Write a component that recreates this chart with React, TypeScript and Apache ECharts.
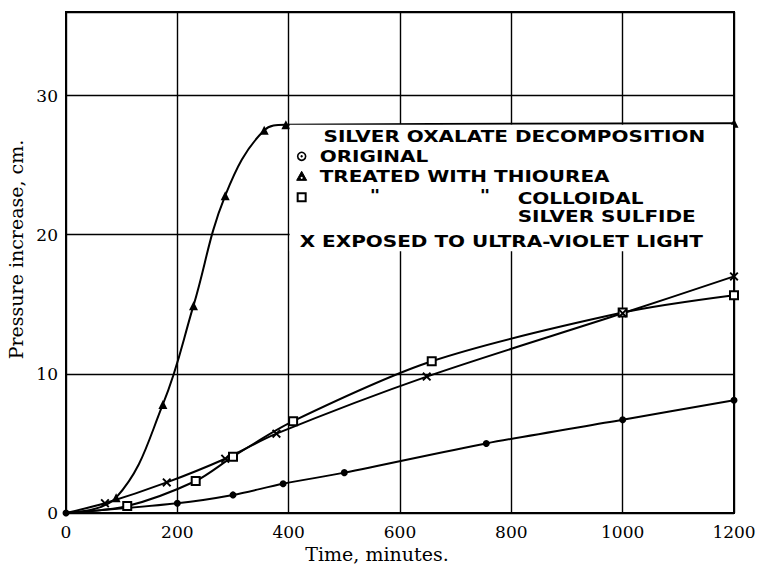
import React, { useEffect, useRef } from "react";
import * as echarts from "echarts";

// Time (minutes) and pressure increase (cm)
const originalTime = [0, 200, 300, 390, 500, 755, 1000, 1200];
const originalPressure = [0, 0.7, 1.3, 2.1, 2.9, 5.0, 6.7, 8.1];

const thioureaTime = [0, 90, 174, 229, 286, 356, 395, 1200];
const thioureaPressure = [0, 1.1, 7.8, 14.9, 22.8, 27.5, 27.9, 28.0];

const colloidalTime = [0, 110, 233, 300, 408, 657, 1000, 1200];
const colloidalPressure = [0, 0.5, 2.3, 4.05, 6.6, 10.9, 14.4, 15.65];

const uvTime = [0, 70, 181, 286, 378, 648, 1000, 1200];
const uvPressure = [0, 0.7, 2.2, 3.9, 5.7, 9.8, 14.35, 17.0];

const xTicks = [0, 200, 400, 600, 800, 1000, 1200];
const yTicks = [0, 10, 20, 30];

const legendTitle = "SILVER OXALATE DECOMPOSITION";
const legendOriginal = "ORIGINAL";
const legendThiourea = "TREATED WITH THIOUREA";
const legendColloidal1 = "COLLOIDAL";
const legendColloidal2 = "SILVER SULFIDE";
const legendUV = "X EXPOSED TO ULTRA-VIOLET LIGHT";

const X_SYMBOL =
  "path://M0,1.5L1.5,0L5,3.5L8.5,0L10,1.5L6.5,5L10,8.5L8.5,10L5,6.5L1.5,10L0,8.5L3.5,5Z";

function pairs(xs: number[], ys: number[]) {
  return xs.map((x, i) =>
    i === 0 ? { value: [x, ys[i]], symbol: "none" } : { value: [x, ys[i]] }
  );
}

export default function App() {
  const ref = useRef<HTMLDivElement>(null);
  useEffect(() => {
    if (!ref.current) return;
    const chart = echarts.init(ref.current, null, { renderer: "svg" });
    const serif = "DejaVu Serif";
    const lineStyle = { color: "#000", width: 2 };
    chart.setOption({
      animation: false,
      backgroundColor: "#fff",
      grid: {
        left: 66,
        right: 24,
        top: 12,
        bottom: 56,
        outerBoundsMode: "none",
        containLabel: false,
        show: true,
        borderColor: "#000",
        borderWidth: 2,
        backgroundColor: "transparent",
      },
      xAxis: {
        type: "value",
        min: 0,
        max: 1200,
        interval: 200,
        name: "Time, minutes.",
        nameLocation: "middle",
        nameGap: 31,
        nameTextStyle: {
          fontFamily: serif,
          fontSize: 19,
          color: "#000",
          padding: [0, 46, 0, 0],
        },
        axisLine: { show: true, lineStyle: { color: "#000", width: 2 } },
        axisTick: { show: false },
        axisLabel: {
          fontFamily: serif,
          fontSize: 17,
          color: "#000",
          margin: 10,
          formatter: (v: number) => (xTicks.includes(v) ? String(v) : ""),
        },
        splitLine: { show: true, lineStyle: { color: "#000", width: 1.4 } },
      },
      yAxis: {
        type: "value",
        min: 0,
        max: 36,
        interval: 10,
        name: "Pressure increase, cm.",
        nameLocation: "middle",
        nameGap: 33,
        nameTextStyle: {
          fontFamily: serif,
          fontSize: 19,
          color: "#000",
          padding: [0, 0, 0, 26],
        },
        axisLine: { show: true, lineStyle: { color: "#000", width: 2 } },
        axisTick: { show: false },
        axisLabel: {
          fontFamily: serif,
          fontSize: 17,
          color: "#000",
          margin: 8,
          showMaxLabel: false,
          formatter: (v: number) => (yTicks.includes(v) ? String(v) : ""),
        },
        splitLine: { show: true, lineStyle: { color: "#000", width: 1.4 } },
      },
      series: [
        {
          name: "Original",
          type: "line",
          smooth: 0.3,
          data: originalTime.map((x, i) => [x, originalPressure[i]]),
          symbol: "circle",
          symbolSize: 7,
          itemStyle: { color: "#000" },
          lineStyle,
          z: 3,
        },
        {
          name: "Treated with thiourea",
          type: "line",
          smooth: 0.4,
          data: pairs(thioureaTime, thioureaPressure),
          symbol: "triangle",
          symbolSize: 9,
          itemStyle: { color: "#000" },
          lineStyle,
          z: 3,
        },
        {
          name: "Treated with colloidal silver sulfide",
          type: "line",
          smooth: 0.3,
          data: pairs(colloidalTime, colloidalPressure),
          symbol: "rect",
          symbolSize: 8,
          itemStyle: { color: "#fff", borderColor: "#000", borderWidth: 2 },
          lineStyle,
          z: 3,
        },
        {
          name: "Exposed to ultra-violet light",
          type: "line",
          smooth: 0.3,
          data: pairs(uvTime, uvPressure),
          symbol: X_SYMBOL,
          symbolSize: 9,
          itemStyle: { color: "#000" },
          lineStyle,
          z: 3,
        },
      ],
    });

    // Legend panel: its top edge is the thiourea plateau, its left edge the 400-min grid line
    const tl = chart.convertToPixel({ gridIndex: 0 }, [400, 28]) as number[];
    const br = chart.convertToPixel({ gridIndex: 0 }, [1200, 18.8]) as number[];
    const L = tl[0];
    const T = tl[1];
    const legendFont = {
      fontFamily: "DejaVu Sans",
      fontWeight: "bold" as const,
      fontSize: 16,
      fill: "#000",
    };
    const sx = 1.25;
    const txt = (text: string, x: number, y: number, align = "left") => ({
      type: "text",
      x,
      y,
      scaleX: sx,
      z: 20,
      style: { ...legendFont, text, textAlign: align, textVerticalAlign: "middle" },
    });
    const mx = L + 13;
    chart.setOption({
      graphic: [
        {
          type: "rect",
          z: 10,
          shape: { x: L + 1, y: T + 1.5, width: br[0] - L - 2, height: br[1] - T - 1.5 },
          style: { fill: "#fff" },
        },
        txt(legendTitle, (L + br[0]) / 2 + 3, T + 13, "center"),
        {
          type: "circle",
          z: 20,
          shape: { cx: mx, cy: T + 33, r: 4 },
          style: { fill: "#fff", stroke: "#000", lineWidth: 1.6 },
        },
        { type: "circle", z: 21, shape: { cx: mx, cy: T + 33, r: 1.2 }, style: { fill: "#000" } },
        txt(legendOriginal, L + 31, T + 33),
        {
          type: "polygon",
          z: 20,
          shape: { points: [[mx, T + 48], [mx - 5, T + 57], [mx + 5, T + 57]] },
          style: { fill: "#000", stroke: "#000", lineWidth: 1 },
        },
        { type: "circle", z: 21, shape: { cx: mx, cy: T + 54.5, r: 1 }, style: { fill: "#fff" } },
        txt(legendThiourea, L + 31, T + 53),
        {
          type: "rect",
          z: 20,
          shape: { x: mx - 4, y: T + 70, width: 8, height: 8 },
          style: { fill: "#fff", stroke: "#000", lineWidth: 2 },
        },
        txt('"', L + 81, T + 72),
        txt('"', L + 191, T + 72),
        txt(legendColloidal1, L + 229, T + 75),
        txt(legendColloidal2, L + 229, T + 93),
        txt(legendUV, L + 11, T + 118),
      ],
    });

    return () => chart.dispose();
  }, []);
  return (
    <div
      ref={ref}
      style={{ position: "fixed", left: 0, top: 0, width: 758, height: 569, background: "#fff" }}
    />
  );
}
